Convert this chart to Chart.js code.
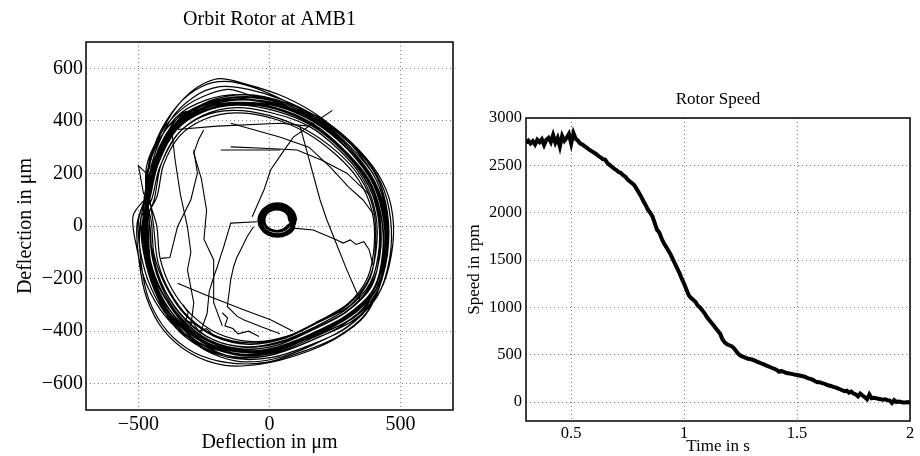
<!DOCTYPE html>
<html><head><meta charset="utf-8">
<script src="https://cdn.jsdelivr.net/npm/chart.js@4.4.0/dist/chart.umd.min.js"></script>
<style>
html,body{margin:0;padding:0;background:#fff;overflow:hidden}
#wrap{position:relative;width:920px;height:456px}
canvas{position:absolute;top:0}
#c1{left:0}#c2{left:460px}
</style></head><body>
<div id="wrap"><canvas id="c1" width="460" height="456"></canvas><canvas id="c2" width="460" height="456"></canvas></div>
<script>
// ---------- Orbit (µm) ----------
const orbitTitle = 'Orbit Rotor at AMB1';
const orbitAxisLabel = 'Deflection in μm';
const orbitPath = [
 [-470,0],[-455,-130],[-410,-250],[-330,-360],[-220,-440],[-90,-470],[40,-450],[170,-390],[300,-320],[390,-220],[425,-80],[415,60],[370,180],[280,290],[160,390],[20,450],[-120,465],[-250,440],[-360,370],[-430,240],[-465,110],
 [-485,-20],[-470,-150],[-420,-270],[-340,-380],[-230,-455],[-100,-490],[30,-475],[160,-420],[290,-350],[395,-250],[440,-100],[435,40],[390,170],[300,290],[180,400],[40,470],[-110,490],[-240,465],[-350,400],[-425,280],[-470,130],
 [-450,10],[-440,-110],[-395,-230],[-320,-340],[-210,-420],[-80,-450],[50,-430],[180,-370],[300,-300],[380,-200],[410,-60],[400,70],[350,190],[265,290],[150,380],[10,430],[-130,450],[-255,420],[-350,350],[-420,220],[-450,100],
 [-490,30],[-480,-100],[-440,-240],[-370,-350],[-260,-450],[-130,-500],[10,-490],[150,-440],[290,-370],[390,-270],[445,-120],[450,30],[410,170],[320,300],[200,410],[60,490],[-90,540],[-200,560],[-300,510],[-390,400],[-460,220],
 [-475,-40],[-450,-170],[-395,-280],[-310,-380],[-200,-450],[-70,-480],[60,-460],[190,-400],[320,-330],[405,-230],[440,-90],[430,50],[385,180],[295,295],[170,395],[30,455],[-110,470],[-240,450],[-345,385],[-420,260],[-460,120],
 [-465,20],[-460,-120],[-425,-260],[-350,-380],[-250,-470],[-120,-515],[20,-505],[160,-455],[300,-380],[400,-270],[450,-110],[445,40],[395,180],[300,300],[175,400],[30,465],[-115,480],[-240,455],[-345,390],[-420,260],[-455,130],
 [-520,40],[-505,-90],[-470,-220],[-400,-340],[-300,-430],[-170,-480],[-40,-485],[90,-450],[230,-390],[350,-310],[420,-190],[450,-40],[440,100],[390,220],[300,320],[180,410],[40,470],[-100,500],[-240,480],[-360,410],[-460,240],
 [-440,-20],[-425,-140],[-380,-250],[-305,-350],[-200,-420],[-70,-445],[60,-425],[190,-365],[310,-300],[385,-195],[405,-60],[395,70],[345,185],[260,280],[140,365],[0,420],[-140,440],[-260,415],[-355,345],[-415,230],[-440,100],
 [-480,-10],[-465,-140],[-415,-270],[-335,-370],[-225,-450],[-95,-480],[40,-465],[180,-415],[320,-350],[420,-250],[465,-110],[470,40],[430,170],[340,290],[210,400],[60,470],[-90,500],[-230,475],[-345,400],[-425,270],[-470,120],
 [-495,0],[-490,-140],[-460,-280],[-390,-400],[-290,-480],[-160,-520],[-20,-520],[120,-480],[260,-420],[370,-330],[430,-190],[445,-40],[420,100],[360,220],[260,330],[130,420],[-20,470],[-160,480],[-290,440],[-390,350],[-460,180],
 [-460,40],[-450,-80],[-415,-210],[-345,-330],[-240,-420],[-110,-460],[20,-450],[150,-400],[280,-335],[375,-240],[415,-110],[415,30],[375,160],[290,275],[170,380],[30,445],[-110,470],[-230,455],[-330,400],[-405,300],[-450,160],
 [-485,10],[-470,-120],[-430,-250],[-355,-360],[-245,-445],[-115,-480],[20,-470],[160,-415],[300,-345],[405,-245],[450,-100],[450,50],[410,185],[320,305],[190,410],[50,480],[-80,520],[-190,530],[-290,490],[-380,400],[-450,230],
 [-470,-30],[-455,-150],[-400,-270],[-320,-370],[-210,-445],[-80,-475],[50,-455],[180,-400],[310,-330],[400,-235],[435,-95],[425,45],[380,175],[290,285],[165,390],[25,450],[-120,470],[-240,445],[-330,430],[-400,340],[-440,250],[-470,110],
 [-455,-10],[-445,-130],[-400,-245],[-325,-350],[-220,-430],[-90,-460],[40,-440],[170,-385],[295,-315],[385,-215],[420,-75],[410,65],[360,185],[275,290],[155,385],[15,440],[-125,460],[-250,435],[-355,365],[-425,235],[-455,110],
 [-478,10],[-470,-130],[-430,-265],[-360,-385],[-255,-465],[-125,-505],[10,-500],[150,-455],[290,-390],[395,-285],[445,-130],[448,20],[405,160],[315,285],[190,395],[45,460],[-100,480],[-230,460],[-340,395],[-420,270],[-465,130],
 [-500,20],[-490,-110],[-450,-240],[-380,-355],[-275,-440],[-140,-485],[0,-480],[140,-430],[280,-360],[385,-260],[435,-120],[440,30],[400,165],[310,290],[180,400],[40,465],[-80,500],[-160,520],[-260,490],[-340,440],[-410,360],[-470,220],
 [-462,-20],[-452,-145],[-405,-262],[-330,-368],[-218,-446],[-85,-478],[48,-460],[178,-402],[305,-335],[398,-238],[432,-98],[424,42],[378,172],[288,282],[162,388],[22,448],[-118,468],[-242,444],[-350,378],[-426,252],[-460,118],
 [-430,0],[-418,-120],[-375,-235],[-300,-335],[-195,-410],[-65,-440],[65,-420],[190,-360],[300,-295],[375,-195],[400,-65],[390,60],[340,175],[255,270],[140,355],[10,410],[-130,430],[-250,405],[-345,340],[-405,230],[-430,110],
 [-488,-5],[-472,-140],[-425,-275],[-345,-390],[-235,-470],[-105,-500],[30,-485],[170,-430],[310,-365],[410,-270],[458,-125],[462,25],[425,165],[335,290],[205,400],[60,468],[-90,492],[-232,470],[-350,402],[-432,272],[-475,128],
 [-480,30],[-470,-100],[-430,-230],[-360,-345],[-255,-435],[-125,-475],[10,-465],[150,-415],[285,-345],[390,-250],[440,-110],[445,40],[405,180],[310,300],[185,405],[50,480],[-70,530],[-170,550],[-260,530],[-350,460],[-430,330],[-470,170],
 [-472,5],[-462,-125],[-418,-255],[-342,-368],[-232,-452],[-102,-488],[32,-472],[168,-418],[302,-348],[402,-252],[442,-105],[436,42],[392,175],[300,292],[176,398],[36,462],[-108,482],[-236,458],[-346,392],[-424,266],[-466,126],
 [-505,10],[-498,-130],[-470,-270],[-405,-395],[-300,-485],[-170,-530],[-30,-525],[110,-490],[250,-430],[365,-340],[430,-200],[450,-50],[425,95],[365,215],[265,325],[135,415],[-15,470],[-160,485],[-295,445],[-400,360],[-470,190],
 [-458,15],[-448,-115],[-408,-240],[-335,-352],[-228,-435],[-98,-468],[35,-452],[165,-395],[292,-328],[388,-232],[422,-92],[418,52],[372,178],[284,286],[160,386],[18,446],[-122,462],[-248,438],[-355,372],[-428,246],[-458,112],
 [-482,-15],[-468,-145],[-420,-268],[-340,-378],[-228,-458],[-98,-494],[36,-478],[172,-422],[308,-355],[405,-258],[448,-112],[444,38],[400,172],[308,294],[182,402],[42,468],[-104,488],[-236,464],[-348,396],[-428,268],[-472,124],
 [-470,0]
];
const orbitChords = [
 [[-47,16],[-148,11],[-160,-30],[-175,-80],[-185,-110],[-199,-155],[-213,-194],[-230,-250],[-238,-332],[-264,-408]],
 [[-61,-3],[-85,-40],[-110,-91],[-125,-120],[-137,-155],[-148,-205],[-161,-306],[-123,-344],[-99,-357],[-34,-382],[40,-410]],
 [[-66,35],[-20,140],[4,213],[50,280],[91,338],[167,391],[240,440]],
 [[91,-8],[167,-15],[257,-53],[281,-65],[308,-53],[330,-70],[360,-60],[380,-90],[395,-150]],
 [[-148,391],[42,338],[150,300],[232,224],[300,150],[357,99],[400,40]],
 [[-148,301],[0,295],[105,289],[200,250],[295,201],[380,120]],
 [[-376,365],[-200,380],[42,391],[150,380]],
 [[-186,289],[-100,289],[42,289]],
 [[117,378],[193,99],[219,23],[257,-72],[295,-167],[333,-254],[345,-281]],
 [[-351,-218],[-250,-260],[-99,-319],[4,-357],[90,-400]],
 [[-376,391],[-360,250],[-340,120],[-313,-3],[-300,-100],[-313,-167],[-289,-292],[-300,-380]],
 [[-289,289],[-275,201],[-300,100],[-351,-3],[-380,-120],[-414,-123]],
 [[-251,365],[-270,330],[-289,277],[-260,180],[-240,60],[-250,-50],[-213,-129],[-213,-292],[-180,-380]],
 [[-440,250],[-470,200],[-500,230],[-480,120]],
 [[-330,-300],[-310,-330],[-320,-360],[-290,-370],[-270,-400],[-240,-390],[-210,-420]],
 [[-180,-330],[-160,-350],[-170,-380],[-140,-390],[-120,-410],[-80,-400],[-40,-420]]
];
const orbitRing = [
 [102,22],[92,53],[66,76],[30,84],[-6,76],[-32,53],[-42,22],[-32,-9],[-6,-32],[30,-40],[66,-32],[92,-9],
 [92,22],[84,49],[61,69],[30,76],[-1,69],[-24,49],[-32,22],[-24,-5],[-1,-25],[30,-32],[61,-25],[84,-5],
 [84,25],[77,48],[57,64],[30,70],[3,64],[-17,48],[-24,25],[-17,2],[3,-15],[30,-21],[57,-15],[77,2],
 [96,20],[88,50],[63,72],[28,80],[-6,72],[-30,50],[-40,20],[-30,-9],[-6,-30],[28,-38],[63,-30],[88,-9],
 [100,26],[90,55],[64,78],[32,86],[-4,78],[-28,55],[-38,26],[-28,-4],[-4,-26],[32,-34],[64,-26],[90,-4],
 [76,22],[70,43],[52,58],[28,64],[4,58],[-14,43],[-20,22],[-14,1],[4,-14],[28,-20],[52,-14],[70,1],[96,20]
];
const orbitTicksX = [-500, 0, 500];
const orbitTicksY = [-600, -400, -200, 0, 200, 400, 600];

// ---------- Rotor speed ----------
const speedTitle = 'Rotor Speed';
const speedXLabel = 'Time in s';
const speedYLabel = 'Speed in rpm';
const timeS = [
 0.30,0.31,0.32,0.33,0.34,0.35,0.36,0.37,0.38,0.39,0.40,0.41,0.42,0.43,0.44,0.45,0.46,0.47,0.48,0.49,
 0.50,0.51,0.52,0.53,0.54,0.55,0.56,0.57,0.58,0.59,0.60,0.61,0.62,0.63,0.64,0.65,0.66,0.67,0.68,0.69,
 0.70,0.71,0.72,0.73,0.74,0.75,0.76,0.77,0.78,0.79,0.80,0.81,0.82,0.83,0.84,0.85,0.86,0.87,0.88,0.89,
 0.90,0.91,0.92,0.93,0.94,0.95,0.96,0.97,0.98,0.99,1.00,1.01,1.02,1.03,1.04,1.05,1.06,1.07,1.08,1.09,
 1.10,1.11,1.12,1.13,1.14,1.15,1.16,1.17,1.18,1.19,1.20,1.21,1.22,1.23,1.24,1.25,1.26,1.27,1.28,1.29,
 1.30,1.31,1.32,1.33,1.34,1.35,1.36,1.37,1.38,1.39,1.40,1.41,1.42,1.43,1.44,1.45,1.46,1.47,1.48,1.49,
 1.50,1.51,1.52,1.53,1.54,1.55,1.56,1.57,1.58,1.59,1.60,1.61,1.62,1.63,1.64,1.65,1.66,1.67,1.68,1.69,
 1.70,1.71,1.72,1.73,1.74,1.75,1.76,1.77,1.78,1.79,1.80,1.81,1.82,1.83,1.84,1.85,1.86,1.87,1.88,1.89,
 1.90,1.91,1.92,1.93,1.94,1.95,1.96,1.97,1.98,1.99,2.00
];
const speedRpm = [
 2740,2760,2730,2755,2720,2770,2745,2775,2715,2770,2790,2745,2820,2740,2790,2700,2810,2760,2790,2830,
 2730,2840,2780,2760,2730,2720,2700,2685,2665,2650,2635,2620,2600,2585,2565,2560,2525,2505,2485,2465,
 2450,2430,2420,2395,2380,2350,2330,2310,2290,2250,2210,2170,2120,2080,2030,2000,1960,1890,1820,1790,
 1730,1680,1640,1600,1560,1510,1460,1410,1360,1300,1250,1190,1130,1100,1080,1060,1020,1000,970,940,
 900,870,840,810,780,750,720,660,630,610,600,590,570,540,510,490,480,470,460,455,
 450,440,430,420,410,400,390,380,370,360,350,340,320,330,320,310,305,300,295,290,
 285,280,275,270,260,250,245,235,220,210,210,200,195,185,175,170,160,155,145,135,
 125,115,120,100,110,90,80,60,90,70,50,30,80,40,45,40,35,30,25,30,
 20,15,-10,20,0,5,0,-5,-5,0,-10
];

// ---------- helpers ----------
const SERIF = "'Liberation Serif','Times New Roman',serif";
const toXY = arr => arr.map(p => ({x: p[0], y: p[1]}));
const boxPlugin = {
  id: 'box',
  afterDatasetsDraw(chart) {
    const a = chart.chartArea, c = chart.ctx;
    c.save(); c.strokeStyle = '#000'; c.lineWidth = 1.5;
    c.strokeRect(a.left, a.top, a.right - a.left, a.bottom - a.top);
    c.restore();
  }
};
function fixedTicks(values) {
  return function(scale) { scale.ticks = values.map(v => ({value: v})); };
}
const gridOpts = {color: '#7a7a7a', lineWidth: 1, drawTicks: false};
const borderOpts = {display: false, dash: [1, 3]};

// ---------- left chart ----------
const leftSets = [
  {data: toXY(orbitPath), borderColor: '#000', borderWidth: 1.2, tension: 0.3},
  ...orbitChords.map(c => ({data: toXY(c), borderColor: '#000', borderWidth: 1.1, tension: 0})),
  {data: toXY(orbitRing), borderColor: '#000', borderWidth: 2.4, tension: 0.4}
].map(d => Object.assign(d, {showLine: true, pointRadius: 0, fill: false}));

new Chart(document.getElementById('c1'), {
  type: 'scatter',
  data: {datasets: leftSets},
  options: {
    responsive: false, animation: false, events: [],
    layout: {padding: {left: 0, right: 7, top: 0, bottom: 0}, autoPadding: false},
    plugins: {
      legend: {display: false}, tooltip: {enabled: false},
      title: {display: true, fullSize: false, text: orbitTitle, color: '#000',
        font: {family: SERIF, size: 20, weight: 'normal', lineHeight: 1.2}, padding: {top: 7.5, bottom: 10.5}}
    },
    scales: {
      x: {type: 'linear', min: -700, max: 700, afterBuildTicks: fixedTicks(orbitTicksX),
        afterFit: s => { s.height = 46; },
        ticks: {color: '#000', font: {family: SERIF, size: 20}, padding: 3, maxRotation: 0, autoSkip: false,
          callback: v => v < 0 ? '\u2212' + Math.abs(v) : String(v)},
        grid: gridOpts, border: borderOpts,
        title: {display: true, text: orbitAxisLabel, color: '#000', font: {family: SERIF, size: 20, lineHeight: 1}, padding: {top: 0, bottom: 3}}},
      y: {type: 'linear', min: -700, max: 700, afterBuildTicks: fixedTicks(orbitTicksY),
        afterFit: s => { s.width = 86; },
        ticks: {color: '#000', font: {family: SERIF, size: 20}, padding: 3, autoSkip: false,
          callback: v => v < 0 ? '\u2212' + Math.abs(v) : String(v)},
        grid: gridOpts, border: borderOpts,
        title: {display: true, text: orbitAxisLabel, color: '#000', font: {family: SERIF, size: 20, lineHeight: 1}, padding: {top: 16, bottom: 0}}}
    }
  },
  plugins: [boxPlugin]
});

// ---------- right chart ----------
const speedTicksX = [0.5, 1, 1.5, 2];
const speedTicksY = [0, 500, 1000, 1500, 2000, 2500, 3000];
new Chart(document.getElementById('c2'), {
  type: 'scatter',
  data: {datasets: [{data: timeS.map((t, i) => ({x: t, y: speedRpm[i]})), showLine: true, pointRadius: 0,
    borderColor: '#000', borderWidth: 4, tension: 0, fill: false}]},
  options: {
    responsive: false, animation: false, events: [],
    layout: {padding: {left: 0, right: 10, top: 0, bottom: 0}, autoPadding: false},
    plugins: {
      legend: {display: false}, tooltip: {enabled: false},
      title: {display: true, fullSize: false, text: speedTitle, color: '#000',
        font: {family: SERIF, size: 17, weight: 'normal', lineHeight: 1.2}, padding: {top: 89.8, bottom: 7.8}}
    },
    scales: {
      x: {type: 'linear', min: 0.3, max: 2, afterBuildTicks: fixedTicks(speedTicksX),
        afterFit: s => { s.height = 35; },
        ticks: {color: '#000', font: {family: SERIF, size: 16.5}, padding: 3, maxRotation: 0, autoSkip: false,
          callback: v => String(v)},
        grid: gridOpts, border: borderOpts,
        title: {display: true, text: speedXLabel, color: '#000', font: {family: SERIF, size: 17, lineHeight: 1}, padding: {top: 0, bottom: 0.5}}},
      y: {type: 'linear', min: -200, max: 3000, afterBuildTicks: fixedTicks(speedTicksY),
        afterFit: s => { s.width = 66; },
        ticks: {color: '#000', font: {family: SERIF, size: 16.5}, padding: 4, autoSkip: false, callback: v => String(v)},
        grid: gridOpts, border: borderOpts,
        title: {display: true, text: speedYLabel, color: '#000', font: {family: SERIF, size: 17, lineHeight: 1}, padding: {top: 6.5, bottom: 0}}}
    }
  },
  plugins: [boxPlugin]
});
</script>
</body></html>
